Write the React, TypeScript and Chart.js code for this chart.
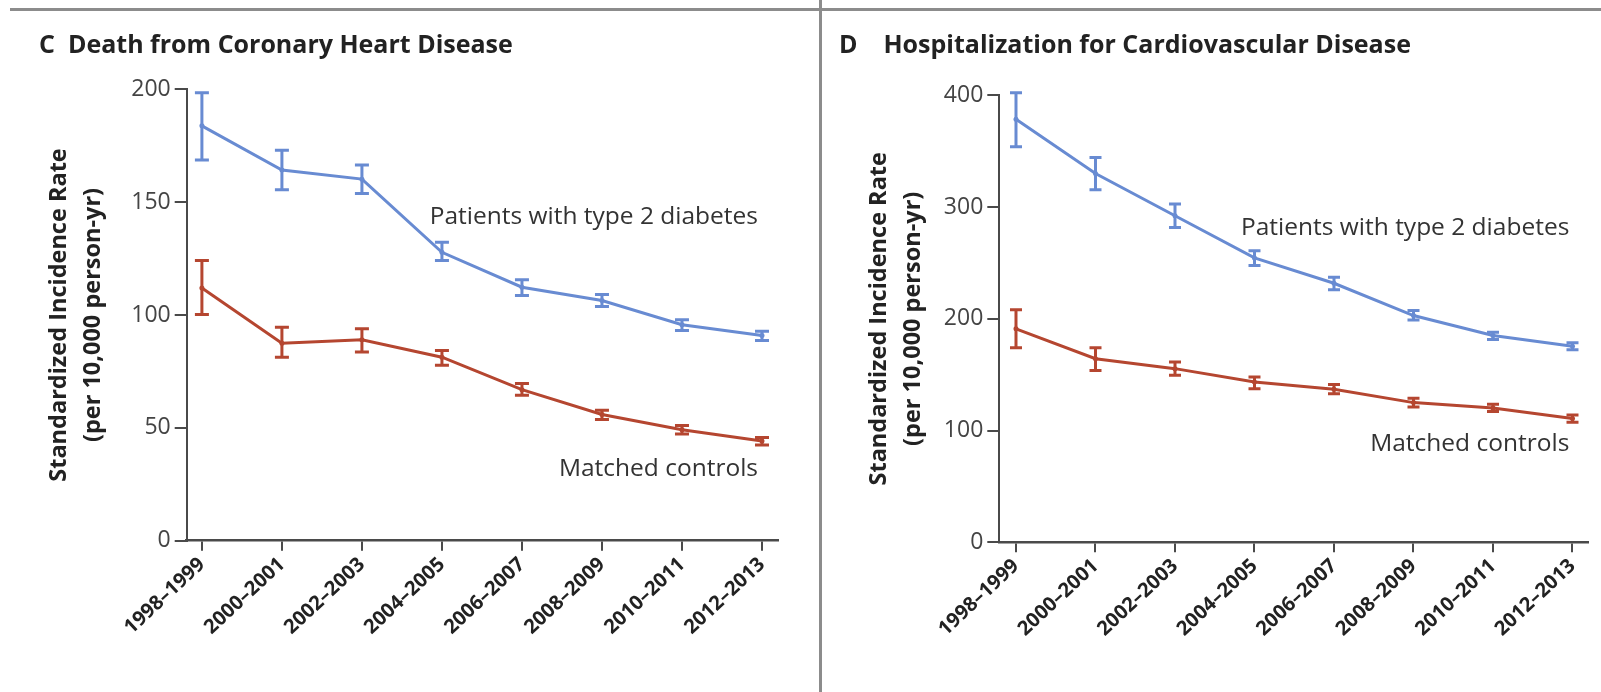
import React, { useEffect, useRef } from "react";
import { Chart, registerables } from "chart.js";

Chart.register(...registerables);

// ---------- data ----------
const periods = ["1998–1999", "2000–2001", "2002–2003", "2004–2005", "2006–2007", "2008–2009", "2010–2011", "2012–2013"];

// Panel C: Death from coronary heart disease
const cDiabetes = [183.8, 164.2, 160.2, 127.8, 112.3, 106.4, 95.7, 90.9];
const cDiabetesLow = [168.7, 155.5, 153.8, 124.1, 108.6, 103.8, 93.1, 88.7];
const cDiabetesHigh = [198.5, 173.0, 166.5, 132.2, 115.6, 109.1, 97.9, 92.8];
const cControls = [112.0, 87.5, 89.0, 81.3, 66.9, 55.9, 49.2, 44.2];
const cControlsLow = [100.2, 81.3, 83.6, 77.7, 64.4, 53.7, 47.3, 42.4];
const cControlsHigh = [124.1, 94.6, 93.9, 84.3, 69.6, 57.8, 51.0, 45.7];
const cYTicks = [0, 50, 100, 150, 200];

// Panel D: Hospitalization for cardiovascular disease
const dDiabetes = [378.6, 330.0, 292.2, 254.5, 231.8, 202.9, 185.1, 175.5];
const dDiabetesLow = [354.0, 315.4, 281.8, 247.6, 225.9, 199.0, 181.5, 172.3];
const dDiabetesHigh = [402.3, 344.3, 302.7, 261.0, 237.1, 207.4, 188.0, 178.5];
const dControls = [191.0, 164.3, 155.4, 143.4, 136.9, 125.0, 120.2, 110.7];
const dControlsLow = [174.1, 153.8, 149.4, 137.5, 133.0, 121.0, 117.0, 107.4];
const dControlsHigh = [208.0, 174.1, 161.3, 147.9, 141.3, 129.0, 123.5, 114.0];
const dYTicks = [0, 100, 200, 300, 400];

const yTitle = ["Standardized Incidence Rate", "(per 10,000 person-yr)"];
const seriesNames = ["Patients with type 2 diabetes", "Matched controls"];

// ---------- styles ----------
const FONT = "'Open Sans', 'Noto Sans', sans-serif";
const BLUE = "rgb(104,139,210)";
const RED = "rgb(181,70,48)";
const AXIS = "#4a4a4a";
const RULE = "#8c8c8c";

const errorBarsPlugin = {
  id: "errorBars",
  afterDatasetsDraw(chart: any, _args: any, opts: any) {
    const ctx = chart.ctx;
    const yScale = chart.scales.y;
    const half = (opts.capWidth || 12) / 2;
    chart.data.datasets.forEach((ds: any, di: number) => {
      const meta = chart.getDatasetMeta(di);
      ctx.save();
      ctx.strokeStyle = ds.borderColor;
      ctx.lineWidth = opts.lineWidth || 3;
      ctx.lineCap = "butt";
      meta.data.forEach((pt: any, i: number) => {
        const yl = yScale.getPixelForValue(ds.errLow[i]);
        const yh = yScale.getPixelForValue(ds.errHigh[i]);
        ctx.beginPath();
        ctx.moveTo(pt.x, yl);
        ctx.lineTo(pt.x, yh);
        ctx.moveTo(pt.x - half, yl);
        ctx.lineTo(pt.x + half, yl);
        ctx.moveTo(pt.x - half, yh);
        ctx.lineTo(pt.x + half, yh);
        ctx.stroke();
      });
      ctx.restore();
    });
  },
};

const seriesLabelsPlugin = {
  id: "seriesLabels",
  afterDraw(chart: any, _args: any, opts: any) {
    const ctx = chart.ctx;
    const xs = chart.scales.x;
    const ys = chart.scales.y;
    ctx.save();
    ctx.font = opts.font;
    ctx.fillStyle = opts.color;
    ctx.textAlign = "right";
    ctx.textBaseline = "middle";
    (opts.items || []).forEach((it: any) => {
      ctx.fillText(it.text, xs.getPixelForValue(it.x), ys.getPixelForValue(it.y));
    });
    ctx.restore();
  },
};

type Panel = {
  title: string;
  diabetes: number[];
  diabetesLow: number[];
  diabetesHigh: number[];
  controls: number[];
  controlsLow: number[];
  controlsHigh: number[];
  yTicks: number[];
  xMin: number;
  xMax: number;
  padLeft: number;
  padRight: number;
  titleTop: number;
  titleBottom: number;
  yWidth: number;
  yTitlePad: number;
  xHeight: number;
  capWidth: number;
  labelAnchors: { x: number; y: number }[];
};

function buildConfig(p: Panel): any {
  const toPts = (arr: number[]) => arr.map((v, i) => ({ x: i, y: v }));
  return {
    type: "line",
    data: {
      datasets: [
        {
          data: toPts(p.diabetes),
          errLow: p.diabetesLow,
          errHigh: p.diabetesHigh,
          borderColor: BLUE,
          backgroundColor: BLUE,
          borderWidth: 3,
          pointRadius: 2.5,
          pointBorderWidth: 0,
          tension: 0,
        },
        {
          data: toPts(p.controls),
          errLow: p.controlsLow,
          errHigh: p.controlsHigh,
          borderColor: RED,
          backgroundColor: RED,
          borderWidth: 3,
          pointRadius: 2.5,
          pointBorderWidth: 0,
          tension: 0,
        },
      ],
    },
    options: {
      animation: false,
      responsive: false,
      maintainAspectRatio: false,
      events: [],
      layout: { padding: { left: p.padLeft, right: p.padRight, top: 0, bottom: 0 } },
      plugins: {
        legend: { display: false },
        tooltip: { enabled: false },
        title: {
          display: true,
          text: p.title,
          align: "start",
          color: "#222",
          font: { family: FONT, size: 25, weight: "700", lineHeight: 1.2 },
          padding: { top: p.titleTop, bottom: p.titleBottom },
        },
        errorBars: { capWidth: p.capWidth, lineWidth: 3 },
        seriesLabels: {
          font: `400 24.5px ${FONT}`,
          color: "#333",
          items: seriesNames.map((t, i) => ({ text: t, x: p.labelAnchors[i].x, y: p.labelAnchors[i].y })),
        },
      },
      scales: {
        x: {
          type: "linear",
          min: p.xMin,
          max: p.xMax,
          afterBuildTicks: (s: any) => {
            s.ticks = periods.map((_, i) => ({ value: i }));
          },
          afterFit: (s: any) => {
            s.height = p.xHeight;
          },
          ticks: {
            autoSkip: false,
            minRotation: 43,
            maxRotation: 43,
            padding: 2,
            color: "#222",
            font: { family: FONT, size: 20, weight: "700" },
            callback: (v: any) => periods[v] ?? "",
          },
          grid: { drawOnChartArea: false, drawTicks: true, tickLength: 10, color: AXIS, lineWidth: 2 },
          border: { display: true, color: AXIS, width: 2.5 },
        },
        y: {
          type: "linear",
          min: 0,
          max: p.yTicks[p.yTicks.length - 1],
          afterBuildTicks: (s: any) => {
            s.ticks = p.yTicks.map((v) => ({ value: v }));
          },
          afterFit: (s: any) => {
            s.width = p.yWidth;
          },
          ticks: {
            padding: 4,
            color: "#444",
            font: { family: FONT, size: 23, weight: "400" },
            callback: (v: any) => String(v),
          },
          title: {
            display: true,
            text: yTitle,
            color: "#222",
            font: { family: FONT, size: 23.5, weight: "700", lineHeight: 1.45 },
            padding: { top: p.yTitlePad, bottom: 0 },
          },
          grid: { drawOnChartArea: false, drawTicks: true, tickLength: 12, color: AXIS, lineWidth: 2 },
          border: { display: true, color: AXIS, width: 2 },
        },
      },
    },
    plugins: [errorBarsPlugin, seriesLabelsPlugin],
  };
}

const panelC: Panel = {
  title: "C  Death from Coronary Heart Disease",
  diabetes: cDiabetes,
  diabetesLow: cDiabetesLow,
  diabetesHigh: cDiabetesHigh,
  controls: cControls,
  controlsLow: cControlsLow,
  controlsHigh: cControlsHigh,
  yTicks: cYTicks,
  xMin: -0.19,
  xMax: 7.2,
  padLeft: 39,
  padRight: 42,
  titleTop: 31,
  titleBottom: 28.3,
  yWidth: 147.7,
  yTitlePad: 2.8,
  xHeight: 151.3,
  capWidth: 14,
  labelAnchors: [
    { x: 6.95, y: 143.2 },
    { x: 6.95, y: 31.7 },
  ],
};

const panelD: Panel = {
  title: "D    Hospitalization for Cardiovascular Disease",
  diabetes: dDiabetes,
  diabetesLow: dDiabetesLow,
  diabetesHigh: dDiabetesHigh,
  controls: dControls,
  controlsLow: dControlsLow,
  controlsHigh: dControlsHigh,
  yTicks: dYTicks,
  xMin: -0.21,
  xMax: 7.195,
  padLeft: 19,
  padRight: 13,
  titleTop: 31,
  titleBottom: 34.3,
  yWidth: 160.3,
  yTitlePad: 23,
  xHeight: 149.7,
  capWidth: 12,
  labelAnchors: [
    { x: 6.96, y: 281.5 },
    { x: 6.96, y: 88.0 },
  ],
};

function PanelChart({ panel, left, width }: { panel: Panel; left: number; width: number }) {
  const ref = useRef<HTMLCanvasElement | null>(null);
  useEffect(() => {
    if (!ref.current) return;
    const chart = new Chart(ref.current, buildConfig(panel));
    return () => chart.destroy();
  }, [panel]);
  return (
    <canvas
      ref={ref}
      width={width}
      height={692}
      style={{ position: "absolute", left, top: 0, width, height: 692, display: "block" }}
    />
  );
}

export default function App() {
  return (
    <div style={{ position: "absolute", left: 0, top: 0, width: 1601, height: 692, background: "#fff", overflow: "hidden" }}>
      <PanelChart panel={panelC} left={0} width={820} />
      <PanelChart panel={panelD} left={820} width={781} />
      <div style={{ position: "absolute", left: 10, top: 8, width: 1591, height: 3, background: RULE }} />
      <div style={{ position: "absolute", left: 819, top: 0, width: 2.5, height: 692, background: RULE }} />
    </div>
  );
}
